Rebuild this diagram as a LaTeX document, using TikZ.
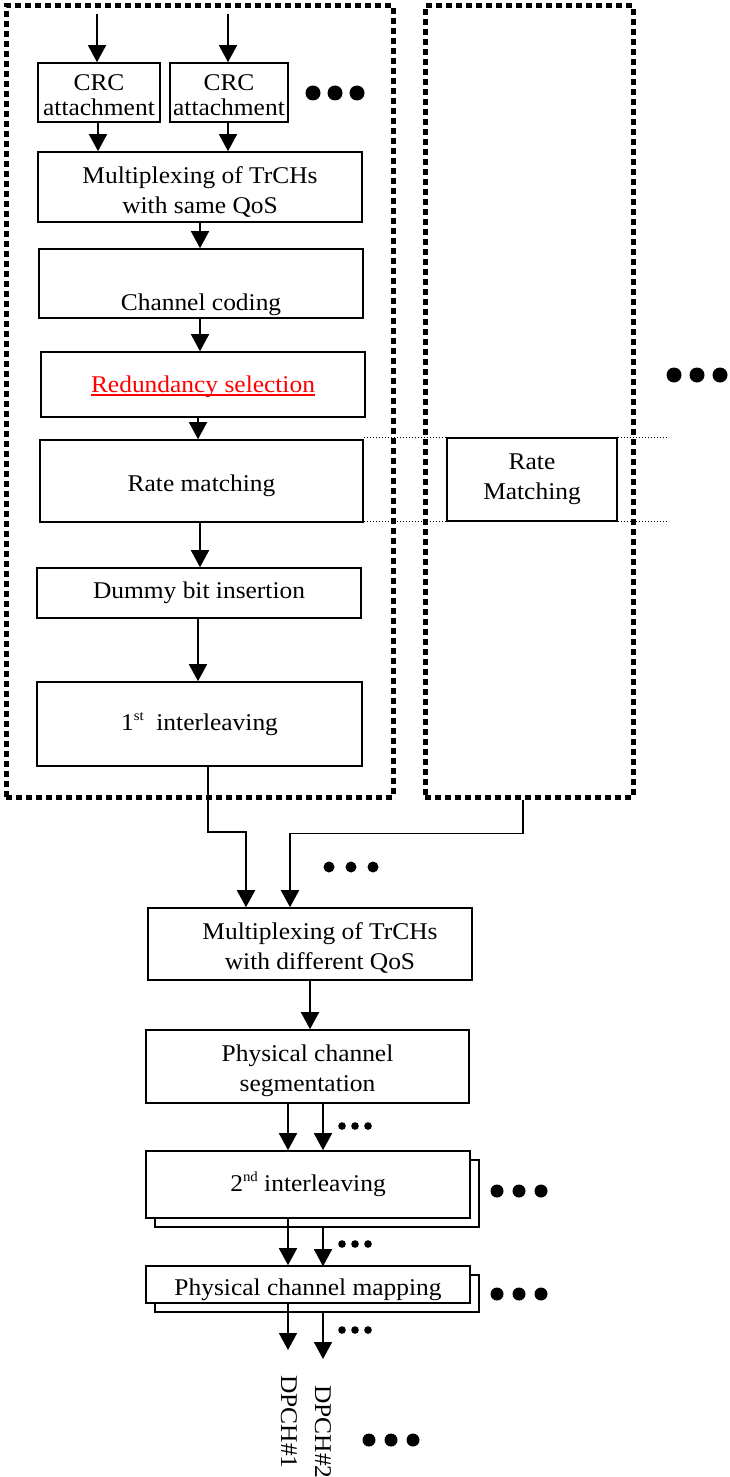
\documentclass[tikz,border=0pt]{standalone}
\usepackage{fontspec}
\setmainfont{Liberation Serif}[FakeStretch=1.06]
\usetikzlibrary{arrows.meta}

% underline that runs close to the baseline
\newcommand\lowrule[1]{{\setbox0\hbox{#1}\rlap{\rule[-3.5pt]{\wd0}{1.3pt}}\box0}}
\newcommand\supsmall[1]{\raisebox{10pt}{\fontsize{14}{14}\selectfont #1}}

\begin{document}
\begin{tikzpicture}[x=1pt,y=-1pt,
  box/.style={draw, line width=1.6pt, fill=white, inner sep=0pt, align=center,
              font=\fontsize{24}{30}\selectfont},
  txt/.style={inner sep=0pt, align=center, font=\fontsize{24}{30}\selectfont},
  arr/.style={line width=1.6pt, -{Triangle[length=17pt,width=18pt]}},
  dotbox/.style={draw, line width=5pt, dash pattern=on 6pt off 4pt, inner sep=0pt},
  fine/.style={line width=1.1pt, dash pattern=on 1.2pt off 1.8pt},
]
\fill[white] (0,0) rectangle (730,1477);
\useasboundingbox (0,0) rectangle (730,1477);

% the two transport-channel groups
\node[dotbox, minimum width=387pt, minimum height=791pt] (lbox) at (199.5,401.5) {};
\node[dotbox, minimum width=208pt, minimum height=791pt] (rbox) at (529,401.5) {};

% left processing chain
\node[box, minimum width=122pt, minimum height=59pt, font=\fontsize{24}{25}\selectfont,
  text height=46.2pt] (crc1) at (99,92.5) {CRC\\attachment};
\node[box, minimum width=118pt, minimum height=59pt, font=\fontsize{24}{25}\selectfont,
  text height=46.2pt] (crc2) at (229,92.5) {CRC\\attachment};
\node[box, minimum width=324pt, minimum height=70pt, text height=56.4pt] (mux1) at (200,187)
  {Multiplexing of TrCHs\\with same QoS};
\node[box, minimum width=324pt, minimum height=69pt] (cc) at (201,283.5) {};
\node[txt] (cctext) at ([yshift=-21pt]cc.center) {Channel coding};
\node[box, minimum width=324pt, minimum height=65pt, text height=20.4pt] (red) at (203,384.5)
  {\color{red}\lowrule{Redundancy selection}};
\node[box, minimum width=323pt, minimum height=82pt, text height=26.4pt] (rm) at (201.5,481)
  {Rate matching};
\node[box, minimum width=324pt, minimum height=50pt] (dbi) at (199,593) {Dummy bit insertion};
\node[box, minimum width=325pt, minimum height=84pt] (il1) at (199.5,724)
  {1\supsmall{st}\ \ interleaving};

% right group
\node[box, minimum width=170pt, minimum height=83pt] (rm2) at (532,479.5) {Rate\\Matching};

% lower chain
\node[box, minimum width=324pt, minimum height=72pt, text height=54.4pt] (mux2) at (310,944)
  {\hspace*{20pt}Multiplexing of TrCHs\\\hspace*{20pt}with different QoS};
\node[box, minimum width=323pt, minimum height=73pt, text height=54.4pt] (seg) at (307.5,1066.5)
  {Physical channel\\segmentation};
\node[box, minimum width=324pt, minimum height=67pt] (il2b) at (317,1193.5) {};
\node[box, minimum width=324pt, minimum height=67pt] (il2) at (308,1184.5)
  {2\supsmall{nd} interleaving};
\node[box, minimum width=324pt, minimum height=37pt] (mapb) at (317,1293.5) {};
\node[box, minimum width=324pt, minimum height=37pt, text height=26.4pt] (map) at (308,1284.5)
  {Physical channel mapping};

\node[txt, rotate=-90, anchor=west] (d1) at (289,1375) {DPCH\#1};
\node[txt, rotate=-90, anchor=west] (d2) at (323,1385) {DPCH\#2};

% column positions
\coordinate (in1) at (97,14);
\coordinate (in2) at (228,14);
\coordinate (k1) at (98,0);
\coordinate (k2) at (228,0);
\coordinate (m) at (200,0);
\coordinate (r) at (198,0);
\coordinate (c1) at (288,0);
\coordinate (c2) at (323,0);

% connectors, upper part
\draw[arr] (in1) -- (crc1.north -| in1);
\draw[arr] (in2) -- (crc2.north -| in2);
\draw[arr] (crc1.south -| k1) -- (mux1.north -| k1);
\draw[arr] (crc2.south -| k2) -- (mux1.north -| k2);
\draw[arr] (mux1.south -| m) -- (cc.north -| m);
\draw[arr] (cc.south -| m) -- (red.north -| m);
\draw[arr] (red.south -| r) -- (rm.north -| r);
\draw[arr] (rm.south -| m) -- (dbi.north -| m);
\draw[arr] (dbi.south -| r) -- (il1.north -| r);

% rate-matching stage marks
\draw[fine] (rm2.north west -| rm.east) -- (rm2.north west);
\draw[fine] (rm2.north east) -- ++(51,0);
\draw[fine] (rm2.south west -| rm.east) -- (rm2.south west);
\draw[fine] (rm2.south east) -- ++(51,0);

% merging the groups
\draw[arr] ([xshift=8.5pt]il1.south) -- ++(0,65) -| ([xshift=-64pt]mux2.north);
\draw[arr] ([xshift=-6pt]rbox.south) -- ++(0,34) -| ([xshift=-20pt]mux2.north);

% lower connectors
\draw[arr] (mux2.south) -- (seg.north -| mux2.south);
\draw[arr] (seg.south -| c1) -- (il2.north -| c1);
\draw[arr] (seg.south -| c2) -- (il2.north -| c2);
\draw[arr] (il2.south -| c1) -- (map.north -| c1);
\draw[arr] (il2b.south -| c2) -- ([yshift=-1pt]map.north -| c2);
\draw[arr, shorten >=25pt] (map.south -| c1) -- (d1.west -| c1);
\draw[arr, shorten >=26pt] (mapb.south -| c2) -- (d2.west -| c2);

% ellipses
\foreach \cx in {313,335,357} \fill (\cx,93) circle (7.5pt);
\foreach \cx in {674,697,720} \fill (\cx,375) circle (7.5pt);
\foreach \cx in {329,351,373} \fill (\cx,867) circle (5.5pt);
\foreach \cx in {342,355,368} \fill (\cx,1126) circle (3.8pt);
\foreach \cx in {497,519,541} \fill (\cx,1191) circle (6.5pt);
\foreach \cx in {342,355,368} \fill (\cx,1244) circle (3.8pt);
\foreach \cx in {497,519,541} \fill (\cx,1294) circle (6.5pt);
\foreach \cx in {342,355,368} \fill (\cx,1330) circle (3.8pt);
\foreach \cx in {369,391,413} \fill (\cx,1440) circle (6.5pt);
\end{tikzpicture}
\end{document}
